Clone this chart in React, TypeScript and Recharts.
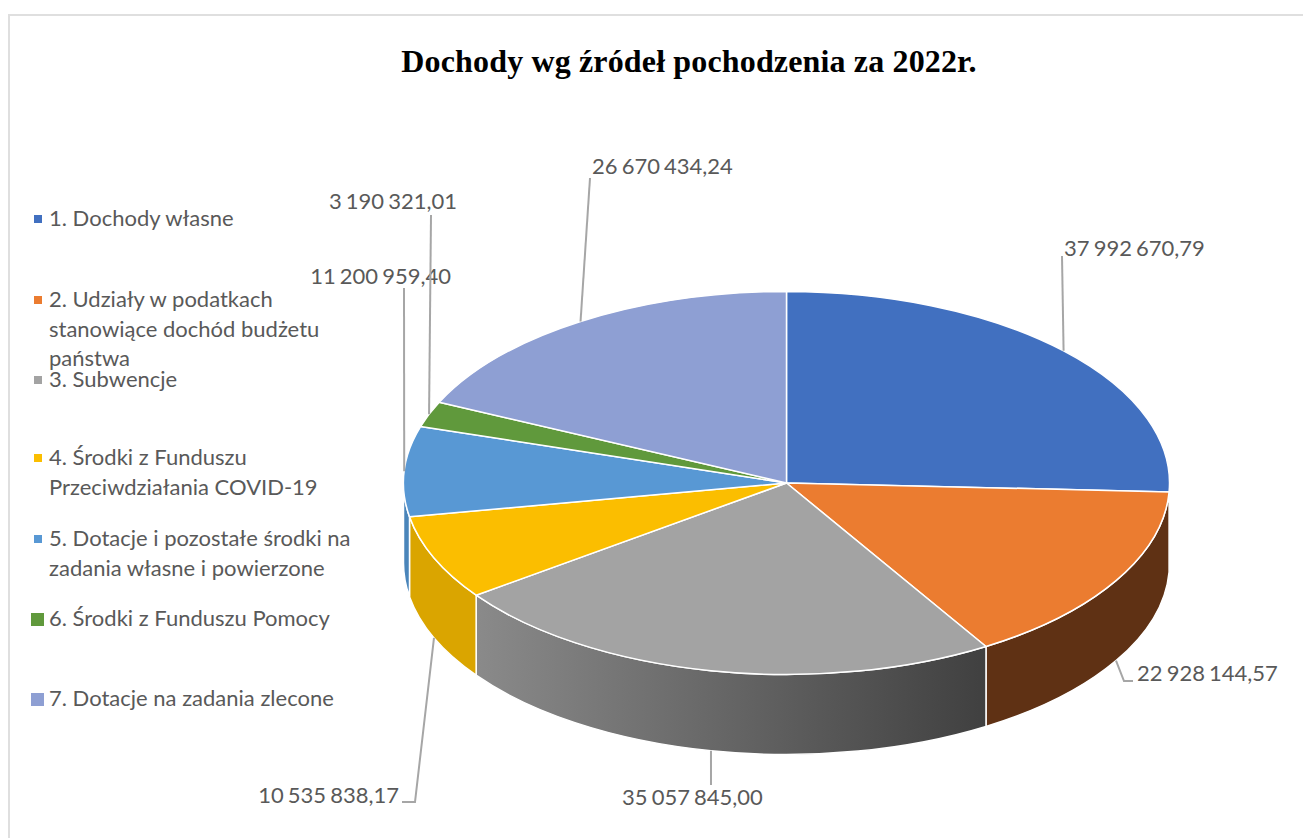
import React from "react";
import { PieChart, Pie, Legend } from "recharts";

const CHART_TITLE = "Dochody wg źródeł pochodzenia za 2022r.";
const categories = [
  "1. Dochody własne",
  "2. Udziały w podatkach stanowiące dochód budżetu państwa",
  "3. Subwencje",
  "4. Środki z Funduszu Przeciwdziałania COVID-19",
  "5. Dotacje i pozostałe środki na zadania własne i powierzone",
  "6. Środki z Funduszu Pomocy",
  "7. Dotacje na zadania zlecone",
];
const values = [37992670.79, 22928144.57, 35057845.0, 10535838.17, 11200959.4, 3190321.01, 26670434.24];
const topColors = ["#4170C0", "#EB7C30", "#A3A3A3", "#FBBE00", "#5898D4", "#60993C", "#8E9FD3"];
const wallColors = ["#2A4A80", "#5F3114", "url(#grayWall)", "#DAA500", "#4A85BA", "#3F6628", "#5F6A8C"];

// Presentation only: legend text wrapping and placement
const legendLines = [
  ["1. Dochody własne"],
  ["2. Udziały w podatkach", "stanowiące dochód budżetu", "państwa"],
  ["3. Subwencje"],
  ["4. Środki z Funduszu", "Przeciwdziałania COVID-19"],
  ["5. Dotacje i pozostałe środki na", "zadania własne i powierzone"],
  ["6. Środki z Funduszu Pomocy"],
  ["7. Dotacje na zadania zlecone"],
];
const legendTops = [218, 299, 379, 457, 538, 618, 698];
const legendLineGaps = [0, 29.5, 0, 30, 29.5, 0, 0];
const legendMarkerSizes = [8, 8, 8, 8, 8, 13, 13];

// Presentation only: label text anchor and leader bend points
const labelTextPos = [
  { x: 1064, y: 248, anchor: "start" },
  { x: 1137, y: 673, anchor: "start" },
  { x: 622, y: 797, anchor: "start" },
  { x: 399, y: 795, anchor: "end" },
  { x: 451, y: 276, anchor: "end" },
  { x: 457, y: 201, anchor: "end" },
  { x: 592, y: 166, anchor: "start" },
];
const leaderBends: number[][][] = [
  [[1062, 256]],
  [[1124, 681], [1133, 681]],
  [[711, 785]],
  [[415, 802], [402, 802]],
  [[404, 288]],
  [[431, 215]],
  [[590, 178]],
];

const PIE_CX = 786.5;
const PIE_CY = 483;
const RX = 383;
const SQUASH = 0.5;
const DEPTH = 80;
const RAD = Math.PI / 180;
const LABEL_FONT = "Lato, 'Open Sans', sans-serif";

const rows = categories.map((name, i) => ({ name, value: values[i], fill: topColors[i] }));
const wallRows = categories.map((name, i) => ({ name, value: values[i], fill: wallColors[i] }));

const formatValue = (v: number) => {
  const [int, dec] = v.toFixed(2).split(".");
  return int.replace(/\B(?=(\d{3})+$)/g, " ") + "," + dec;
};

const pt = (cx: number, cy: number, r: number, a: number, dy = 0) => ({
  x: cx + r * Math.cos(a * RAD),
  y: cy - r * SQUASH * Math.sin(a * RAD) + dy,
});

const TopSlice = (p: any) => {
  const { cx, cy, outerRadius: r, startAngle: a, endAngle: b, fill } = p;
  const s = pt(cx, cy, r, a);
  const e = pt(cx, cy, r, b);
  const large = Math.abs(a - b) > 180 ? 1 : 0;
  return (
    <path
      d={`M${cx},${cy}L${s.x},${s.y}A${r},${r * SQUASH} 0 ${large} 1 ${e.x},${e.y}Z`}
      fill={fill}
      stroke="#ffffff"
      strokeWidth={1.5}
      strokeLinejoin="round"
    />
  );
};

const WallSlice = (p: any) => {
  const { cx, cy, outerRadius: r, startAngle: a, endAngle: b, fill } = p;
  // only the front half of the rim (math angles -180..0) is visible
  const from = Math.min(a, 0);
  const to = Math.max(b, -180);
  if (from <= to) return <g />;
  const s = pt(cx, cy, r, from);
  const e = pt(cx, cy, r, to);
  const rs = `${r},${r * SQUASH}`;
  return (
    <path
      d={`M${s.x},${s.y}A${rs} 0 0 1 ${e.x},${e.y}L${e.x},${e.y + DEPTH}A${rs} 0 0 0 ${s.x},${s.y + DEPTH}Z`}
      fill={fill}
      stroke="#ffffff"
      strokeWidth={1.5}
    />
  );
};

const renderLabel = (p: any) => {
  const { index, cx, cy, outerRadius: r, midAngle, value } = p;
  const front = Math.sin(midAngle * RAD) < 0;
  const start = pt(cx, cy, r, midAngle, front ? DEPTH : 0);
  const pts = [[start.x, start.y], ...leaderBends[index]].map((q) => q.join(",")).join(" ");
  const t = labelTextPos[index];
  return (
    <g key={index}>
      <polyline points={pts} fill="none" stroke="#A6A6A6" strokeWidth={2} />
      <text
        x={t.x}
        y={t.y}
        dy="0.35em"
        textAnchor={t.anchor as any}
        fontFamily={LABEL_FONT}
        fontSize={22}
        wordSpacing={-1.5}
        fill="#595959"
      >
        {formatValue(value)}
      </text>
    </g>
  );
};

const renderLegend = (props: any) => {
  const items = (props.payload || []).filter((it: any) => it.type !== "none");
  return (
    <div style={{ position: "relative", width: 400, height: 760, fontFamily: LABEL_FONT, fontSize: 22, color: "#595959" }}>
      {items.map((it: any, i: number) => {
        const size = legendMarkerSizes[i];
        return (
          <div key={i}>
            <div
              style={{
                position: "absolute",
                left: 37.5 - size / 2,
                top: legendTops[i] + 1 - size / 2,
                width: size,
                height: size,
                background: it.color,
              }}
            />
            {legendLines[i].map((line, j) => (
              <div
                key={j}
                style={{
                  position: "absolute",
                  left: 49,
                  top: legendTops[i] + j * legendLineGaps[i] - 15,
                  lineHeight: "30px",
                  whiteSpace: "nowrap",
                }}
              >
                {line}
              </div>
            ))}
          </div>
        );
      })}
    </div>
  );
};

export default function App() {
  return (
    <div style={{ position: "absolute", left: 0, top: 0, width: 1303, height: 838, background: "#fff" }}>
      <PieChart width={1303} height={838} margin={{ top: 0, right: 0, bottom: 0, left: 0 }}>
        <defs>
          <linearGradient id="grayWall" x1="0" y1="0" x2="1" y2="0">
            <stop offset="0" stopColor="#8A8A8A" />
            <stop offset="1" stopColor="#404040" />
          </linearGradient>
        </defs>
        <path d="M1303,15H9V838" fill="none" stroke="#DFDFDF" strokeWidth={2} />
        <text
          x={689}
          y={72}
          textAnchor="middle"
          fontFamily="'Liberation Serif', serif"
          fontWeight="bold"
          fontSize={32}
          letterSpacing={0.15}
          fill="#000"
        >
          {CHART_TITLE}
        </text>
        <Pie
          data={wallRows}
          dataKey="value"
          nameKey="name"
          cx={PIE_CX}
          cy={PIE_CY}
          outerRadius={RX}
          startAngle={90}
          endAngle={-270}
          shape={WallSlice}
          legendType="none"
          isAnimationActive={false}
          label={false}
          labelLine={false}
        />
        <Pie
          data={rows}
          dataKey="value"
          nameKey="name"
          cx={PIE_CX}
          cy={PIE_CY}
          outerRadius={RX}
          startAngle={90}
          endAngle={-270}
          shape={TopSlice}
          isAnimationActive={false}
          label={renderLabel}
          labelLine={false}
        />
        <Legend
          layout="horizontal"
          verticalAlign="middle"
          align="center"
          content={renderLegend}
          wrapperStyle={{ position: "absolute", left: 0, top: 0, width: 400, height: 760 }}
        />
      </PieChart>
    </div>
  );
}
